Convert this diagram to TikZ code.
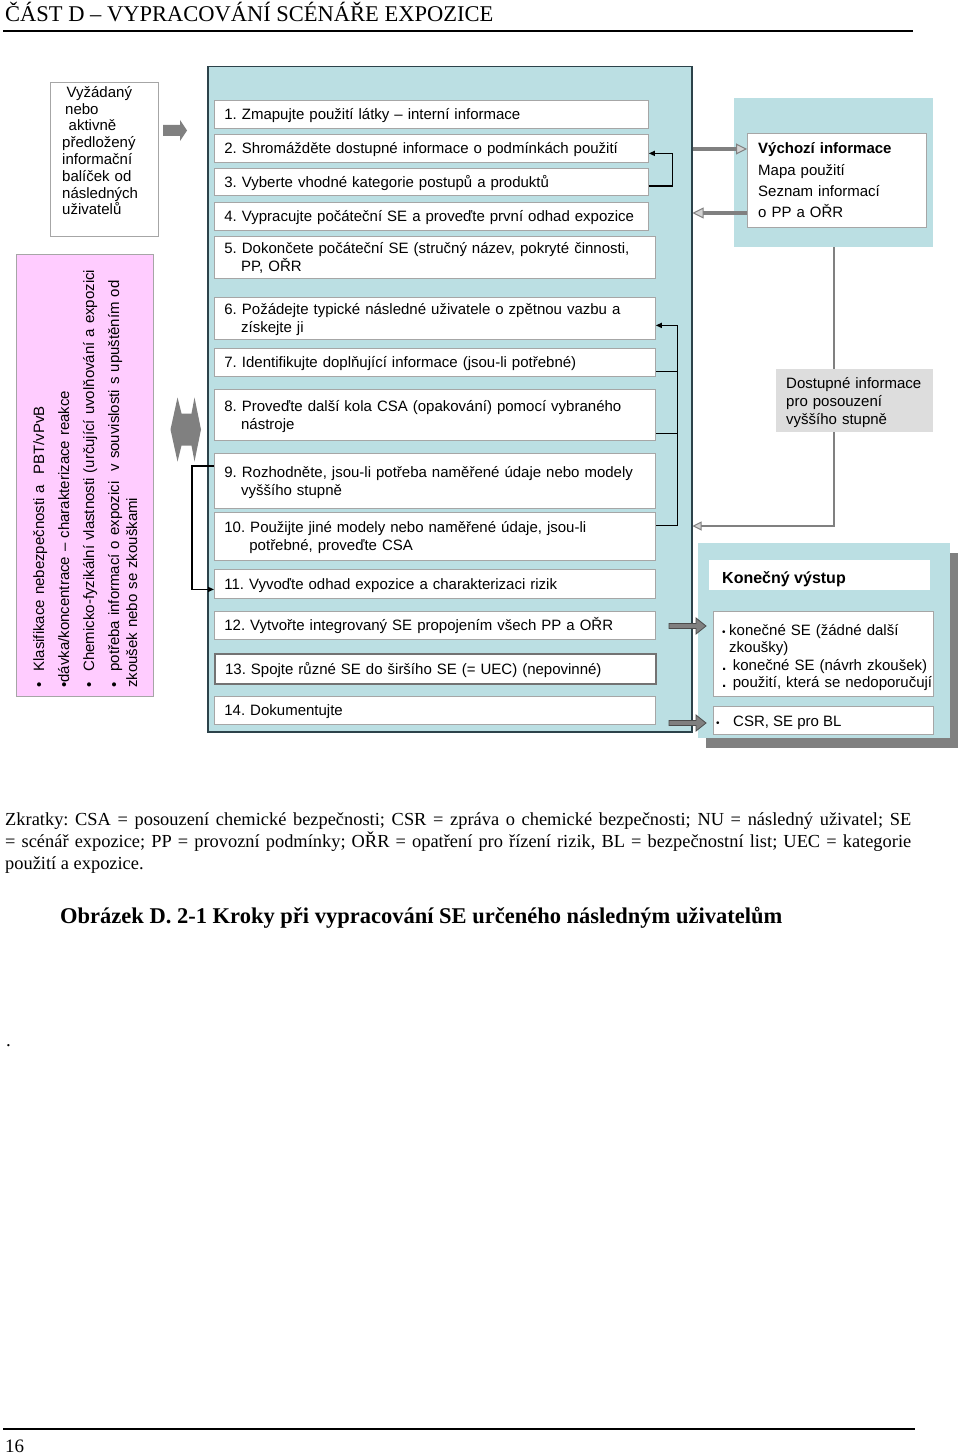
\documentclass[tikz,border=0pt]{standalone}
\usepackage{fontspec}
\setmainfont{Liberation Sans}
\newfontfamily\pageserif{Liberation Serif}
\usetikzlibrary{arrows.meta, shadows}
\frenchspacing

\definecolor{tealbg}{RGB}{187,223,227}
\definecolor{pinkbg}{RGB}{255,204,255}
\definecolor{boxgray}{RGB}{166,166,166}
\definecolor{arrowgray}{RGB}{128,128,128}
\definecolor{availgray}{RGB}{221,221,221}
\definecolor{framedark}{RGB}{44,66,74}
\newcommand\boxstrut{\rule[-3.2pt]{0pt}{16.8pt}}

\begin{document}
\begin{tikzpicture}[x=1pt,y=-1pt,
  every node/.style={inner sep=0pt},
  plain/.style={anchor=base west, align=left, font=\fontsize{15}{18}\selectfont},
  serif/.style={anchor=base west, align=left, font=\pageserif\fontsize{19}{22}\selectfont},
  graybox/.style={draw=boxgray, fill=white, line width=0.8pt, anchor=north west},
  stepbox/.style={graybox, align=left, text width=421pt, inner xsep=10pt,
    font=\fontsize{15}{18}\selectfont,
    execute at begin node=\boxstrut, execute at end node=\boxstrut},
  fbline/.style={line width=1.3pt, -{Triangle[length=6pt,width=5pt]}},
  fbstub/.style={line width=1.3pt},
  fatgray/.style={draw=arrowgray, line width=4pt,
    -{Triangle[length=11pt,width=11pt,line width=1pt,fill=arrowgray!35]}},
  thingray/.style={draw=arrowgray, line width=2pt},
  blockdark/.style={fill=arrowgray, draw=black!70, line width=0.8pt}]
\path (0,0) -- (960,1455);

% page head and foot
\node[serif, font=\pageserif\fontsize{22.5}{27}\selectfont] (head) at (5,22) {ČÁST D – VYPRACOVÁNÍ SCÉNÁŘE EXPOZICE};
\draw[line width=2pt] (3,31) -- (913,31);
\draw[line width=2pt] (3,1429) -- (915,1429);
\node[serif] (pageno) at (5,1452) {16};
\node[serif] (dot) at (6,1046) {.};

% left column
\node[graybox, minimum width=108pt, minimum height=154pt] (req) at (50,82) {};
\node[plain, text width=90pt, font=\fontsize{15}{16.8}\selectfont] (reqtext) at (62,97.3)
  {\hspace*{4.5pt}Vyžádaný\\ \hspace*{3pt}nebo\\ \hspace*{6.5pt}aktivně\\ předložený\\ informační\\ balíček od\\ následných\\ uživatelů};
\node[graybox, fill=pinkbg, minimum width=137pt, minimum height=442pt] (pink) at (16,254) {};
\node[plain, rotate=90, text width=440pt] (pinktext) at (44,688)
  {\textbullet\hspace{11pt}Klasifikace nebezpečnosti a\ \ PBT/vPvB\\[7pt]
   \textbullet dávka/koncentrace – charakterizace reakce\\[7pt]
   \textbullet\hspace{11pt}Chemicko-fyzikální vlastnosti (určující uvolňování a expozici\\[7pt]
   \textbullet\hspace{11pt}potřeba informací o expozici\ \ v souvislosti s upuštěním od\\
   zkoušek nebo se zkouškami};

% steps
\node[draw=framedark, fill=tealbg, line width=1.5pt, anchor=north west,
  minimum width=484pt, minimum height=665pt] (main) at (207,66) {};
\node[stepbox, text width=414pt, minimum height=28pt] (s1) at (214,100) {1. Zmapujte použití látky – interní informace};
\node[stepbox, text width=414pt, minimum height=28pt] (s2) at (214,134) {2. Shromážděte dostupné informace o podmínkách použití};
\node[stepbox, text width=414pt, minimum height=27pt] (s3) at (214,168) {3. Vyberte vhodné kategorie postupů a produktů};
\node[stepbox, text width=414pt, minimum height=28pt] (s4) at (214,202) {4. Vypracujte počáteční SE a proveďte první odhad expozice};
\node[stepbox, minimum height=42pt] (s5) at (214,236) {5. Dokončete počáteční SE (stručný název, pokryté činnosti,\\ \hspace*{16.7pt}PP, OŘR};
\node[stepbox, minimum height=42pt] (s6) at (214,297) {6. Požádejte typické následné uživatele o zpětnou vazbu a\\ \hspace*{16.7pt}získejte ji};
\node[stepbox, minimum height=28pt] (s7) at (214,348) {7. Identifikujte doplňující informace (jsou-li potřebné)};
\node[stepbox, minimum height=51pt] (s8) at (214,389) {8. Proveďte další kola CSA (opakování) pomocí vybraného\\ \hspace*{16.7pt}nástroje};
\node[stepbox, minimum height=55pt] (s9) at (214,453) {9. Rozhodněte, jsou-li potřeba naměřené údaje nebo modely\\ \hspace*{16.7pt}vyššího stupně};
\node[stepbox, minimum height=48pt] (s10) at (214,512) {10. Použijte jiné modely nebo naměřené údaje, jsou-li\\ \hspace*{25pt}potřebné, proveďte CSA};
\node[stepbox, minimum height=29pt] (s11) at (214,569) {11. Vyvoďte odhad expozice a charakterizaci rizik};
\node[stepbox, minimum height=28pt] (s12) at (214,611) {12. Vytvořte integrovaný SE propojením všech PP a OŘR};
\node[stepbox, draw=black!55, line width=2.2pt, minimum height=30pt] (s13) at (214,653) {13. Spojte různé SE do širšího SE (= UEC) (nepovinné)};
\node[stepbox, minimum height=28pt] (s14) at (214,696) {14. Dokumentujte};

% feedback loops
\draw[fbline] ([yshift=-4pt]s3.east) -- ++(24,0) |- ([yshift=-5pt]s2.east);
\draw[fbline] ([yshift=11pt]s10.east) -- ++(22,0) |- ([yshift=-7pt]s6.east);
\draw[fbstub] ([yshift=-9pt]s7.east) -- ++(22,0);
\draw[fbstub] ([yshift=-18.5pt]s8.east) -- ++(22,0);
\draw[fbline] ([yshift=15pt]s9.west) -- ++(-22,0) |- ([yshift=-5.5pt]s11.west);

% right column
\node[fill=tealbg, anchor=north west, minimum width=199pt, minimum height=149pt] (initbg) at (734,98) {};
\node[graybox, minimum width=179pt, minimum height=94pt] (init) at (747,133) {};
\node[plain, text width=160pt, font=\fontsize{15}{21}\selectfont] (inittext) at (758,154)
  {\textbf{Výchozí informace}\\[1pt] Mapa použití\\ Seznam informací\\ o PP a OŘR};
\node[fill=availgray, anchor=north west, minimum width=157pt, minimum height=63pt] (avail) at (776,369) {};
\node[plain, text width=140pt, font=\fontsize{15}{18.3}\selectfont] (availtext) at (786,388.3)
  {Dostupné informace\\ pro posouzení\\ vyššího stupně};

\node[fill=tealbg, anchor=north west, minimum width=252pt, minimum height=195pt,
  drop shadow={shadow xshift=8pt, shadow yshift=-10pt, fill=arrowgray, opacity=1}] (finalbg) at (698,543) {};
\node[fill=white, anchor=north west, minimum width=221pt, minimum height=30pt] (finalhead) at (709,560) {};
\node[plain, font=\bfseries\fontsize{16}{18}\selectfont] (finaltitle) at (722,583) {Konečný výstup};
\node[graybox, minimum width=220pt, minimum height=85pt] (finallist) at (713,611) {};
\node[plain, text width=210pt, font=\fontsize{15}{17.5}\selectfont] (finallisttext) at (722,635)
  {{\fontsize{10}{10}\selectfont\textbullet}\hspace{3.5pt}konečné SE (žádné další\\
   \hspace*{7pt}zkoušky)\\
   \textbf{.}\hspace{6.5pt}konečné SE (návrh zkoušek)\\
   \textbf{.}\hspace{6.5pt}použití, která se nedoporučují};
\node[graybox, minimum width=220pt, minimum height=28pt] (finalcsr) at (713,706) {};
\node[plain] (finalcsrtext) at (716,726.7) {{\fontsize{10}{10}\selectfont\textbullet}\hspace{13.5pt}CSR, SE pro BL};

% gray connectors
\draw[fatgray] (main.east |- 0,149) -- (init.west |- 0,149);
\draw[fatgray] (init.west |- 0,213) -- (main.east |- 0,213);
\draw[thingray] (initbg.south) -- (initbg.south |- avail.north);
\draw[thingray, -{Triangle[length=9pt,width=9pt,line width=1pt,fill=arrowgray!35]}]
  (initbg.south |- avail.south) |- (main.east |- 0,526);
\fill[arrowgray] (163,125) -- (180,125) -- (180,120) -- (187,130.5) -- (180,141) -- (180,136) -- (163,136) -- cycle;
\fill[arrowgray] (170.5,429.5) -- (177.5,397.5) -- (181.5,413.5) -- (191.5,413.5) -- (194.5,397.5) -- (201,429.5)
  -- (194.5,461.5) -- (191.5,445.5) -- (181.5,445.5) -- (177.5,461.5) -- cycle;
\filldraw[blockdark] (669,623.5) -- (696,623.5) -- (696,618) -- (706,626) -- (696,634) -- (696,628.5) -- (669,628.5) -- cycle;
\filldraw[blockdark] (669,720.5) -- (696,720.5) -- (696,715) -- (706,723) -- (696,731) -- (696,725.5) -- (669,725.5) -- cycle;

% notes below
\node[serif, text width=906pt, align=justify, font=\pageserif\fontsize{18.4}{22}\selectfont] (abbrev) at (5,825)
  {Zkratky: CSA = posouzení chemické bezpečnosti; CSR = zpráva o chemické bezpečnosti; NU = následný uživatel; SE\linebreak
   = scénář expozice; PP = provozní podmínky; OŘR = opatření pro řízení rizik, BL = bezpečnostní list; UEC = kategorie\linebreak
   použití a expozice.};
\node[serif, font=\pageserif\bfseries\fontsize{22.5}{27}\selectfont] (caption) at (60,923)
  {Obrázek D. 2-1 Kroky při vypracování SE určeného následným uživatelům};
\end{tikzpicture}
\end{document}
